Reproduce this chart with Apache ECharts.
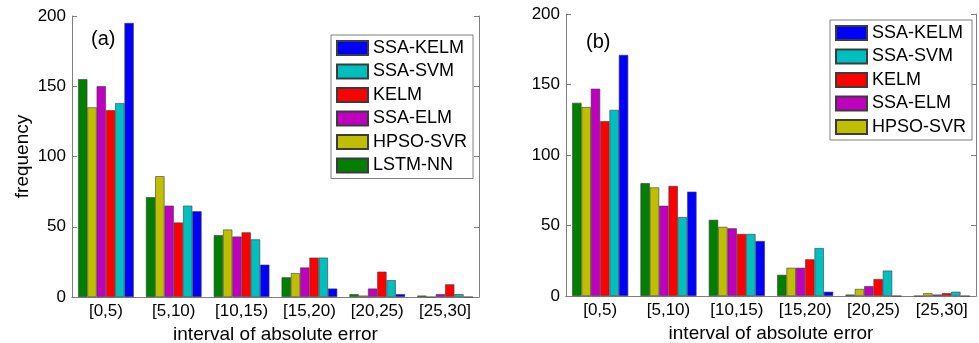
<!DOCTYPE html>
<html>
<head>
<meta charset="utf-8">
<title>frequency of absolute error</title>
<script src="https://cdn.jsdelivr.net/npm/echarts@6/dist/echarts.min.js"></script>
<style>
  html, body { margin: 0; padding: 0; background: #fff; }
  #chart { width: 979px; height: 343px; }
</style>
</head>
<body>
<div id="chart"></div>
<script>
// categories and y ticks
const categories = ['[0,5)', '[5,10)', '[10,15)', '[15,20)', '[20,25)', '[25,30]']
const yMin = 0
const yMax = 200
const yStep = 50

// panel (a)
const lstmA = [155, 71, 44, 14, 2, 1]
const hpsoA = [135, 86, 48, 17, 1, 0]
const ssaElmA = [150, 65, 43, 21, 6, 2]
const kelmA = [133, 53, 46, 28, 18, 9]
const ssaSvmA = [138, 65, 41, 28, 12, 2]
const ssaKelmA = [195, 61, 23, 6, 2, 0]

// panel (b)
const lstmB = [137, 80, 54, 15, 1, 0]
const hpsoB = [134, 77, 49, 20, 5, 2]
const ssaElmB = [147, 64, 48, 20, 7, 1]
const kelmB = [124, 78, 44, 26, 12, 2]
const ssaSvmB = [132, 56, 44, 34, 18, 3]
const ssaKelmB = [171, 74, 39, 3, 0, 0]

// bar order left to right inside a group
const names = ['LSTM-NN', 'HPSO-SVR', 'SSA-ELM', 'KELM', 'SSA-SVM', 'SSA-KELM']
const colors = ['#007f00', '#bfbf00', '#bf00bf', '#ff0000', '#00bfbf', '#0000ff']
const legendA = ['SSA-KELM', 'SSA-SVM', 'KELM', 'SSA-ELM', 'HPSO-SVR', 'LSTM-NN']
const legendB = ['SSA-KELM', 'SSA-SVM', 'KELM', 'SSA-ELM', 'HPSO-SVR']

const font = 'Liberation Sans, Arial, sans-serif'
const frame = '#7f7f7f'

function xAxes (gridIndex) {
  return [{
    type: 'category',
    gridIndex: gridIndex,
    data: categories,
    position: 'bottom',
    axisLine: { lineStyle: { color: frame } },
    axisTick: { inside: true, alignWithLabel: true, length: 5, lineStyle: { color: frame } },
    axisLabel: { interval: 0, color: '#000', fontSize: 17, fontFamily: font, margin: 6 },
    name: 'interval of absolute error',
    nameLocation: 'middle',
    nameGap: 25,
    nameTextStyle: { color: '#000', fontSize: 19, fontFamily: font }
  }, {
    type: 'category',
    gridIndex: gridIndex,
    data: categories,
    position: 'top',
    axisLine: { lineStyle: { color: frame } },
    axisTick: { inside: true, alignWithLabel: true, interval: 0, length: 5, lineStyle: { color: frame } },
    axisLabel: { show: false }
  }]
}

function yAxes (gridIndex, withName) {
  const base = {
    type: 'value',
    gridIndex: gridIndex,
    min: yMin,
    max: yMax,
    interval: yStep,
    splitLine: { show: false },
    axisLine: { show: true, lineStyle: { color: frame } },
    axisTick: { show: true, inside: true, length: 5, lineStyle: { color: frame } }
  }
  return [Object.assign({}, base, {
    position: 'left',
    axisLabel: { color: '#000', fontSize: 17, fontFamily: font, margin: 6 },
    name: withName ? 'frequency' : '',
    nameLocation: 'middle',
    nameGap: 40,
    nameTextStyle: { color: '#000', fontSize: 19, fontFamily: font }
  }), Object.assign({}, base, {
    position: 'right',
    axisLabel: { show: false }
  })]
}

function barSeries (values, axisIndex) {
  return values.map((data, i) => ({
    name: names[i],
    type: 'bar',
    xAxisIndex: axisIndex,
    yAxisIndex: axisIndex,
    data: data,
    barGap: '0%',
    barCategoryGap: '18%',
    itemStyle: { color: colors[i], borderColor: '#3c3c3c', borderWidth: 0.6 }
  }))
}

function legend (data, left, top) {
  return {
    data: data,
    orient: 'vertical',
    left: left,
    top: top,
    icon: 'rect',
    itemWidth: 31,
    itemHeight: 14,
    itemGap: 5.5,
    padding: [4, 6, 4, 5],
    backgroundColor: '#fff',
    borderColor: frame,
    borderWidth: 1,
    textStyle: { color: '#000', fontSize: 18, fontFamily: font, lineHeight: 18 }
  }
}

const chart = echarts.init(document.getElementById('chart'))

chart.setOption({
  animation: false,
  grid: [
    { left: 72, top: 16, width: 407, height: 281, outerBoundsMode: 'none' },
    { left: 566, top: 14, width: 410, height: 282, outerBoundsMode: 'none' }
  ],
  xAxis: xAxes(0).concat(xAxes(1)),
  yAxis: yAxes(0, true).concat(yAxes(1, false)),
  legend: [legend(legendA, 331, 35), legend(legendB, 830, 20)],
  graphic: [
    { type: 'text', left: 91, top: 29, style: { text: '(a)', fontSize: 20, fontFamily: font, fill: '#000' } },
    { type: 'text', left: 586, top: 32, style: { text: '(b)', fontSize: 20, fontFamily: font, fill: '#000' } }
  ],
  series: barSeries([lstmA, hpsoA, ssaElmA, kelmA, ssaSvmA, ssaKelmA], 0)
    .concat(barSeries([lstmB, hpsoB, ssaElmB, kelmB, ssaSvmB, ssaKelmB], 2))
})
</script>
</body>
</html>
